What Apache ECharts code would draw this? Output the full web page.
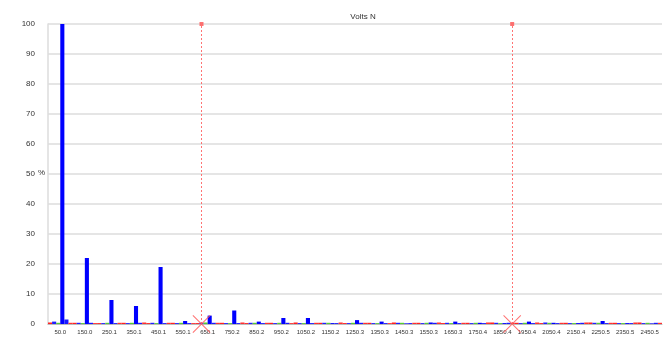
<!DOCTYPE html>
<html><head><meta charset="utf-8">
<script src="https://cdn.jsdelivr.net/npm/echarts@6/dist/echarts.min.js"></script>
<style>html,body{margin:0;padding:0;background:#fff}#c{width:671px;height:340px}</style>
</head><body><div id="c"></div>
<script>
var categories = ['50.0','150.0','250.1','350.1','450.1','550.1','650.1','750.2','850.2','950.2','1050.2','1150.2','1250.3','1350.3','1450.3','1550.3','1650.3','1750.4','1850.4','1950.4','2050.4','2150.4','2250.5','2350.5','2450.5'];
var mainValues = [100, 22, 8, 6, 19, 1, 2.8, 4.5, 0.8, 2, 2, 0.3, 1.3, 0.8, 0.2, 0.5, 0.8, 0.4, 0.3, 0.8, 0.4, 0.3, 1, 0.3, 0.2];
var redA   = [0.5, 0.4, 0.3, 0.4, 0.3, 0.4, 0.3, 0.4, 0.3, 0.4, 0.5, 0.4, 0.3, 0.4, 0.5, 0.4, 0.3, 0.4, 0.5, 0.4, 0.3, 0.4, 0.5, 0.4, 0.5];
var blueA  = [0.8, 0.4, 0.3, 0.3, 0.4, 0.3, 0.4, 0.3, 0.4, 0.3, 0.3, 0.4, 0.3, 0.3, 0.4, 0.3, 0.4, 0.3, 0.4, 0.3, 0.5, 0.3, 0.4, 0.3, 0.3];
var greenA = [0.4, 0.3, 0.4, 0.4, 0.3, 0.4, 0.5, 0.3, 0.4, 0.4, 0.3, 0.4, 0.4, 0.3, 0.4, 0.4, 0.3, 0.4, 0.3, 0.4, 0.4, 0.3, 0.4, 0.3, 0.4];
var blueB  = [1.5, 0.4, 0.3, 0.4, 0.3, 0.3, 0.4, 0.3, 0.3, 0.4, 0.3, 0.3, 0.4, 0.3, 0.3, 0.4, 0.3, 0.3, 0.4, 0.3, 0.3, 0.4, 0.3, 0.3, 0.4];
var redB   = [0.4, 0.3, 0.4, 0.5, 0.4, 0.3, 0.4, 0.5, 0.4, 0.3, 0.4, 0.5, 0.4, 0.3, 0.4, 0.5, 0.4, 0.5, 0.4, 0.5, 0.4, 0.5, 0.4, 0.5, 0.4];
var yTicks = {min: 0, max: 100, interval: 10};
var limitLines = [625, 1890];
var chartTitle = 'Volts N';
var yUnit = '%';

var xPath = 'path://M0,0.8L0.8,0L20,19.2L19.2,20Z M19.2,0L20,0.8L0.8,20L0,19.2Z';
function barSeries(name, data, color) {
  return {name: name, type: 'bar', data: data, barGap: '0%', barCategoryGap: '0%',
    itemStyle: {color: color}, silent: true, animation: false};
}
var lineSt = {color: '#ff5a5a', type: [2, 2], width: 1, opacity: 0.85};
var chart = echarts.init(document.getElementById('c'), null, {renderer: 'canvas'});
chart.setOption({
  backgroundColor: '#ffffff',
  animation: false,
  title: {text: chartTitle, left: 358, top: 8, textAlign: 'center',
    textStyle: {fontSize: 8, fontWeight: 'normal', color: '#333', fontFamily: 'Liberation Sans'}},
  grid: {left: 48, right: 9, top: 24, bottom: 16, containLabel: false},
  graphic: [{type: 'text', left: 38, top: 169,
    style: {text: yUnit, fontSize: 8, fill: '#333', fontFamily: 'Liberation Sans'}}],
  xAxis: [{
    type: 'category', data: categories,
    axisLine: {lineStyle: {color: '#bbb'}}, axisTick: {show: false},
    axisLabel: {interval: 0, fontSize: 6, color: '#333', margin: 5, fontFamily: 'Liberation Sans'},
    splitLine: {show: false}
  }, {
    type: 'value', min: 0, max: 2500, show: false, position: 'bottom'
  }],
  yAxis: {
    type: 'value', min: yTicks.min, max: yTicks.max, interval: yTicks.interval,
    axisLine: {show: true, lineStyle: {color: '#ddd', width: 1.5}}, axisTick: {show: false},
    axisLabel: {fontSize: 8, color: '#333', margin: 13, fontFamily: 'Liberation Sans'},
    splitLine: {lineStyle: {color: '#dcdcdc', width: 1.5}}
  },
  series: [
    barSeries('A', redA, '#ff2020'),
    barSeries('B', blueA, '#2020ff'),
    barSeries('C', greenA, '#55cc33'),
    barSeries('Main', mainValues, '#0000ff'),
    barSeries('D', blueB, '#1a1aff'),
    barSeries('E', redB, '#ff3030'),
    {
      type: 'line', xAxisIndex: 1, data: [], silent: true,
      markLine: {
        silent: true, animation: false,
        label: {show: false},
        lineStyle: lineSt,
        data: limitLines.map(function (v) {
          return [
            {coord: [v, 0], symbol: xPath, symbolSize: 18, lineStyle: lineSt, itemStyle: {color: '#ff5a5a'}},
            {coord: [v, 100], symbol: 'rect', symbolSize: 4, itemStyle: {color: '#ff4040'}}
          ];
        })
      }
    }
  ]
});
</script></body></html>
